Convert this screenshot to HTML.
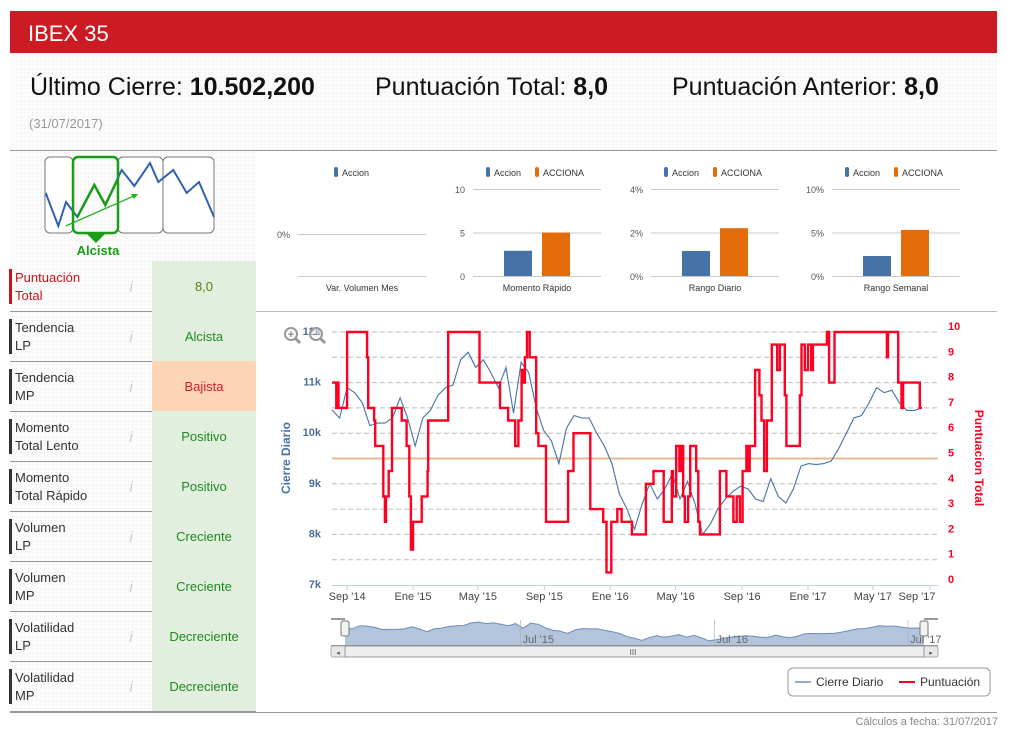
<!DOCTYPE html>
<html><head><meta charset="utf-8"><style>
body{margin:0;background:#fff;font-family:"Liberation Sans",sans-serif;}
svg{display:block}
text{font-family:"Liberation Sans",sans-serif}
</style></head><body>
<svg id="page" width="1012" height="735" viewBox="0 0 1012 735" xmlns="http://www.w3.org/2000/svg">
<defs>
<pattern id="dots" width="4" height="4" patternUnits="userSpaceOnUse"><rect width="4" height="4" fill="#fbfbfb"/><rect width="1" height="1" fill="#ececec"/></pattern>
</defs>
<rect x="10" y="53" width="987" height="97" fill="url(#dots)"/>
<rect x="10" y="150" width="246" height="562" fill="url(#dots)"/>
<rect x="10" y="11" width="987" height="42" fill="#cc1b22"/>
<text x="28" y="41" font-size="22" fill="#fff">IBEX 35</text>
<text x="30" y="95" font-size="25" fill="#111">Último Cierre: <tspan font-weight="bold">10.502,200</tspan></text>
<text x="375" y="95" font-size="25" fill="#111">Puntuación Total: <tspan font-weight="bold">8,0</tspan></text>
<text x="672" y="95" font-size="25" fill="#111">Puntuación Anterior: <tspan font-weight="bold">8,0</tspan></text>
<text x="29" y="128" font-size="13" fill="#999">(31/07/2017)</text>
<line x1="10" y1="150.5" x2="997" y2="150.5" stroke="#999"/>
<line x1="256" y1="311.5" x2="997" y2="311.5" stroke="#bbb"/>

<g>
<rect x="45" y="157" width="28" height="76" rx="5" fill="#fff" stroke="#777"/>
<rect x="118" y="157" width="45" height="76" rx="5" fill="#fff" stroke="#777"/>
<rect x="163" y="157" width="51" height="76" rx="5" fill="#fff" stroke="#777"/>
<polyline points="45.7,193 58.3,226 66,202 77.3,217 94.3,185 105.3,205 121.7,170 134.3,186 150,163 158.3,182 173.3,170 186.7,193 199,182 214,217" fill="none" stroke="#2e62b0" stroke-width="2"/>
<rect x="73" y="157" width="45" height="76" rx="5" fill="none" stroke="#1a9c1a" stroke-width="2.5"/>
<polyline points="77.3,217 94.3,185 105.3,205 117.3,180" fill="none" stroke="#1a9c1a" stroke-width="2.5"/>
<line x1="65.7" y1="226" x2="136" y2="195" stroke="#22b022" stroke-width="1.3"/>
<polygon points="138,194 131,194 134,199" fill="#22b022"/>
<polygon points="86,233 106,233 96,243" fill="#1a9c1a"/>
<text x="98" y="255" font-size="13" font-weight="bold" fill="#1a9c1a" text-anchor="middle">Alcista</text>
</g>

<g id="rows"></g>

<g id="minis"></g>

<g id="main"></g>

<line x1="10" y1="712.5" x2="997" y2="712.5" stroke="#999"/>
<text x="998" y="725" font-size="11" fill="#888" text-anchor="end">Cálculos a fecha: 31/07/2017</text>
</svg>
<script>
var NS='http://www.w3.org/2000/svg';
function mk(tag,attrs,parent,txt){var e=document.createElementNS(NS,tag);for(var k in attrs)e.setAttribute(k,attrs[k]);if(txt!==undefined)e.textContent=txt;parent.appendChild(e);return e;}

// ---------- indicator table ----------
var rowLabels=[["Puntuación","Total"],["Tendencia","LP"],["Tendencia","MP"],["Momento","Total Lento"],["Momento","Total Rápido"],["Volumen","LP"],["Volumen","MP"],["Volatilidad","LP"],["Volatilidad","MP"]];
var rowValues=["8,0","Alcista","Bajista","Positivo","Positivo","Creciente","Creciente","Decreciente","Decreciente"];
var rowBad=[false,false,true,false,false,false,false,false,false];
var rows=document.getElementById('rows');
rowLabels.forEach(function(l,i){
  var y=261+i*50;
  var g=mk('g',{},rows);
  
  
  var first=i===0;
  mk('rect',{x:152,y:y,width:104,height:50,fill:rowBad[i]?'#fcd5b6':'#e2efdf'},g);
  mk('rect',{x:9,y:y+8,width:3,height:35,fill:first?'#d0101c':'#333'},g);
  mk('text',{x:15,y:y+21,'font-size':13,fill:first?'#d0101c':'#333'},g,l[0]);
  mk('text',{x:15,y:y+39,'font-size':13,fill:first?'#d0101c':'#333'},g,l[1]);
  var info=mk('text',{x:131,y:y+31,'font-size':15,'font-style':'italic','font-family':'Liberation Serif',fill:'#ccc','text-anchor':'middle'},g,'i');
  
  
  mk('text',{x:204,y:y+30,'font-size':13,fill:rowBad[i]?'#d0202a':(first?'#5a7a10':'#1e8a1e'),'text-anchor':'middle'},g,rowValues[i]);
  mk('line',{x1:10,y1:y+50.5,x2:256,y2:y+50.5,stroke:'#999'},g);
});

// ---------- mini bar charts ----------
var miniTitles=["Var. Volumen Mes","Momento Rápido","Rango Diario","Rango Semanal"];
var miniMax=[null,10,4,10];
var miniTicks=[["0%"],["0","5","10"],["0%","2%","4%"],["0%","5%","10%"]];
var miniAccion=[0,2.9,1.15,2.3];
var miniAcciona=[null,5,2.2,5.3];
var miniLeft=[298,473,651,832];
var minis=document.getElementById('minis');
miniTitles.forEach(function(t,i){
  var g=mk('g',{},minis);
  
  
  var x0=miniLeft[i],w=128,top=189,bot=276;
  var cx=x0+w/2;
  if(miniMax[i]===null){
    mk('line',{x1:x0,y1:234.5,x2:x0+w,y2:234.5,stroke:'#c8c8c8'},g);
    mk('line',{x1:x0,y1:276.5,x2:x0+w,y2:276.5,stroke:'#c8c8c8'},g);
    mk('text',{x:x0-8,y:238,'font-size':9,fill:'#555','text-anchor':'end'},g,miniTicks[i][0]);
    mk('rect',{x:cx-28,y:167,width:4,height:10,rx:2,fill:'#4572a7'},g);
    mk('text',{x:cx-20,y:176,'font-size':9,fill:'#333'},g,'Accion');
  } else {
    var n=miniTicks[i].length;
    for(var k=0;k<n;k++){
      var yy=bot-(bot-top)*k/(n-1);
      mk('line',{x1:x0,y1:yy+0.5,x2:x0+w,y2:yy+0.5,stroke:'#c8c8c8'},g);
      mk('text',{x:x0-8,y:yy+4,'font-size':9,fill:'#555','text-anchor':'end'},g,miniTicks[i][k]);
    }
    var sc=function(v){return bot-(v/miniMax[i])*(bot-top);};
    var b1=mk('rect',{x:cx-33,y:sc(miniAccion[i]),width:28,height:bot-sc(miniAccion[i]),fill:'#4572a7'},g);
    
    
    var b2=mk('rect',{x:cx+5,y:sc(miniAcciona[i]),width:28,height:bot-sc(miniAcciona[i]),fill:'#e46c0a'},g);
    
    
    mk('rect',{x:cx-51,y:167,width:4,height:10,rx:2,fill:'#4572a7'},g);
    mk('text',{x:cx-43,y:176,'font-size':9,fill:'#333'},g,'Accion');
    mk('rect',{x:cx-2,y:167,width:4,height:10,rx:2,fill:'#e46c0a'},g);
    mk('text',{x:cx+6,y:176,'font-size':9,fill:'#333'},g,'ACCIONA');
  }
  mk('text',{x:cx,y:291,'font-size':9,fill:'#333','text-anchor':'middle'},g,t);
});

// ---------- main chart data ----------
var startDate='2014-08-04';
var stepDays=14;
var closeVals=[10.46,10.3,10.9,10.8,10.6,10.15,10.2,10.2,10.3,10.7,10.3,9.75,10.3,10.45,10.75,10.9,10.95,11.45,11.6,11.3,11.45,11.2,10.9,11.3,10.4,11.4,11.2,10.5,10.05,9.85,9.4,10.1,10.35,10.3,10.3,10.0,9.75,9.4,8.8,8.5,8.1,
8.6,9.0,8.7,8.9,9.2,8.7,9.05,8.6,8.0,8.2,8.5,8.7,8.85,8.95,8.9,8.7,8.65,9.1,8.75,8.62,8.9,9.35,9.4,9.38,9.4,9.45,9.7,10.0,10.3,10.35,10.6,10.9,10.8,10.85,10.6,10.45,10.45,10.5];
var scoreDays=[0,8,10,12,28,65,67,78,80,95,98,100,105,111,129,138,143,146,150,166,177,178,215,273,311,326,339,345,351,354,357,361,366,378,382,396,437,447,478,502,508,517,528,536,555,581,595,614,629,631,637,643,646,650,653,659,663,674,678,681,718,730,743,749,755,760,767,770,773,783,791,795,800,805,814,824,829,838,841,866,869,875,881,887,890,916,920,930,1027,1029,1048,1054,1057,1088,1092];
var scoreVals=[8,7,8,7,10,9,7,6.5,5.5,3.5,2.5,3.5,4.5,7,6.5,5.5,3.5,1.4,2.5,3.5,4.5,6.5,10,8,7,6.5,5.5,6.5,8.5,8,9,10,9,6,5.5,2.5,4.5,6,3,2.5,0.5,2.5,3,2.5,2,4,4.5,2.5,4.5,3.5,5.5,4.5,5.5,3.5,2.5,3.5,5.5,4.5,2.5,2,4.5,3.5,2.5,3.5,2.5,4.5,5.5,4.5,5.5,8.5,7.5,6.5,4.5,6.5,9.5,8.5,9.5,7.5,5.5,7.5,9.5,8.5,9.5,8.5,9.5,10,8,10,9,10,8,7,8,7,7];
var refLevel=5;
var leftTicks=["7k","8k","9k","10k","11k","12k"];
var leftTickVals=[7,8,9,10,11,12];
var rightTickVals=[0,1,2,3,4,5,6,7,8,9,10];
var xTickDates=['2014-09-01','2015-01-01','2015-05-01','2015-09-01','2016-01-01','2016-05-01','2016-09-01','2017-01-01','2017-05-01','2017-09-01'];
var xTickLabels=["Sep '14","Ene '15","May '15","Sep '15","Ene '16","May '16","Sep '16","Ene '17","May '17","Sep '17"];
var navTickDates=['2015-07-01','2016-07-01','2017-07-01'];
var navTickLabels=["Jul '15","Jul '16","Jul '17"];

var main=document.getElementById('main');
var DAY=86400000, t0=Date.parse(startDate);
function dOf(s){return (Date.parse(s)-t0)/DAY;}
var PL=332,PR=938,PT=332,PB=585,pxDay=0.5403;
function xS(d){return PL+d*pxDay;}
function yL(v){return PB-(v-7)/5*(PB-PT);}
function yR(v){return PB-v/10*(PB-PT);}

for(var k=0;k<=10;k++){
  var gy=PB-(PB-PT)*k/10;
  if(k>0){var gl=mk('line',{x1:PL,y1:gy,x2:PR,y2:gy,stroke:'#bbb','stroke-dasharray':'5,3'},main);
  
  }
}
mk('line',{x1:PL,y1:PB+0.5,x2:PR,y2:PB+0.5,stroke:'#c0d0e0'},main);
leftTickVals.forEach(function(v,i){
  var t=mk('text',{x:321,y:yL(v)+3,'font-size':11,'font-weight':'bold',fill:'#4d6d99','text-anchor':'end'},main,leftTicks[i]);
  
  
});
rightTickVals.forEach(function(v){
  var t=mk('text',{x:948,y:yR(v)-2,'font-size':11,'font-weight':'bold',fill:'#ff0022'},main,String(v));
  
  
});
var lt=mk('text',{x:0,y:0,'font-size':12,'font-weight':'bold',fill:'#4572a7','text-anchor':'middle',transform:'translate(290,458) rotate(-90)'},main,'Cierre Diario');


var rt=mk('text',{x:0,y:0,'font-size':12,'font-weight':'bold',fill:'#ff0022','text-anchor':'middle',transform:'translate(975,458) rotate(90)'},main,'Puntuacion Total');


xTickDates.forEach(function(s,i){
  var x=Math.min(xS(dOf(s)),930);
  mk('line',{x1:x,y1:PB,x2:x,y2:PB+5,stroke:'#c0d0e0'},main);
  var t=mk('text',{x:Math.min(x,917),y:600,'font-size':11,fill:'#444','text-anchor':'middle'},main,xTickLabels[i]);
  
  
});
[291,316].forEach(function(cx,i){
  var g=mk('g',{},main);
  
  
  mk('circle',{cx:cx,cy:334,r:6,fill:'rgba(255,255,255,0.5)',stroke:'#999','stroke-width':2},g);
  mk('line',{x1:cx+4,y1:338,x2:cx+9,y2:343,stroke:'#999','stroke-width':3},g);
  mk('text',{x:cx,y:338,'font-size':11,'font-weight':'bold',fill:'#888','text-anchor':'middle'},g,i?'−':'+');
});
var rl=mk('line',{x1:PL,y1:yR(refLevel),x2:PR,y2:yR(refLevel),stroke:'#e8b890','stroke-width':2},main);


var cp=closeVals.map(function(v,i){return xS(i*stepDays).toFixed(1)+','+yL(v).toFixed(1);}).join(' ');
var cl=mk('polyline',{points:cp,fill:'none',stroke:'#4572a7','stroke-width':1.1},main);


var sp=[];
for(var i=0;i<scoreDays.length;i++){
  var x=xS(scoreDays[i]).toFixed(1);
  if(i>0)sp.push(x+','+yR(scoreVals[i-1]).toFixed(1));
  sp.push(x+','+yR(scoreVals[i]).toFixed(1));
}
var sl=mk('polyline',{points:sp.join(' '),fill:'none',stroke:'#ff0022','stroke-width':2.4},main);



var NL=345,NR=924,NT=620,NB=645;
var lastDay=(closeVals.length-1)*stepDays;
function xN(d){return NL+d/lastDay*(NR-NL);}
function yN(v){return NB-(v-7.2)/4.8*(NB-NT);}
var ng=mk('g',{},main);


var np=closeVals.map(function(v,i){return xN(i*stepDays).toFixed(1)+','+yN(v).toFixed(1);});
mk('polygon',{points:NL+','+NB+' '+np.join(' ')+' '+NR+','+NB,fill:'#b3c5dd',stroke:'none'},ng);
mk('polyline',{points:np.join(' '),fill:'none',stroke:'#6d8cb5','stroke-width':1},ng);
navTickDates.forEach(function(s,i){
  var x=xN(dOf(s));
  mk('line',{x1:x,y1:NT,x2:x,y2:NB,stroke:'#aaa','stroke-width':0.6},ng);
  mk('text',{x:x+2,y:NB-2,'font-size':11,fill:'#666'},ng,navTickLabels[i]);
});
mk('line',{x1:331,y1:NT-1,x2:NL,y2:NT-1,stroke:'#333'},ng);
mk('line',{x1:NR,y1:NT-1,x2:938,y2:NT-1,stroke:'#333'},ng);
mk('line',{x1:331,y1:NB+0.5,x2:938,y2:NB+0.5,stroke:'#888'},ng);
[NL-2,NR-2].forEach(function(x){
  var h=mk('rect',{x:x-2,y:621,width:8,height:15,rx:2,fill:'#f2f2f2',stroke:'#777'},ng);
  
  
});
var sb=mk('rect',{x:331,y:646,width:607,height:11,rx:2,fill:'#e8e8e8',stroke:'#aaa'},ng);


mk('rect',{x:345,y:646,width:579,height:11,fill:'#eee',stroke:'#999'},ng);
mk('text',{x:633,y:655,'font-size':8,fill:'#555','text-anchor':'middle'},ng,'III');
mk('text',{x:338,y:655,'font-size':7,fill:'#555','text-anchor':'middle'},ng,'◂');
mk('text',{x:931,y:655,'font-size':7,fill:'#555','text-anchor':'middle'},ng,'▸');

var lg=mk('g',{},main);


mk('rect',{x:788,y:668,width:202,height:28,rx:5,fill:'#fff',stroke:'#999'},lg);
var e1=mk('g',{},lg);


mk('line',{x1:795,y1:682,x2:811,y2:682,stroke:'#93acd0','stroke-width':2},e1);
mk('text',{x:816,y:686,'font-size':12,fill:'#333'},e1,'Cierre Diario');
var e2=mk('g',{},lg);


mk('line',{x1:899,y1:682,x2:915,y2:682,stroke:'#ff0022','stroke-width':2},e2);
mk('text',{x:920,y:686,'font-size':12,fill:'#333'},e2,'Puntuación');
</script>
</body></html>
